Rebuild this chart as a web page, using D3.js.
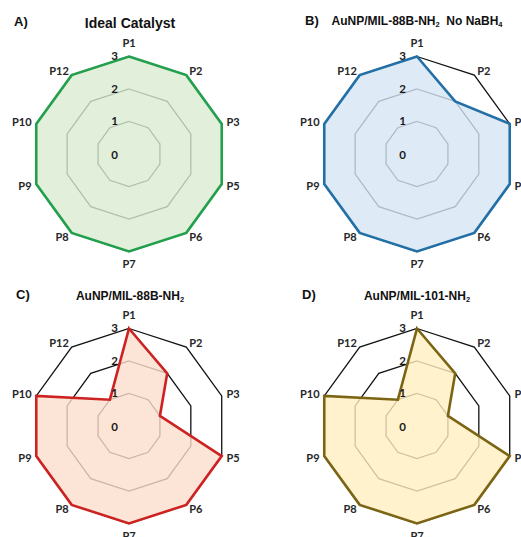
<!DOCTYPE html>
<html>
<head>
<meta charset="utf-8">
<script src="https://cdn.jsdelivr.net/npm/d3@7"></script>
<style>
  html, body { margin: 0; padding: 0; background: #fff; }
  svg { display: block; }
</style>
</head>
<body>
<svg id="chart" width="521" height="537"></svg>
<script>
// ---- data ----
const axes = ["P1", "P2", "P3", "P5", "P6", "P7", "P8", "P9", "P10", "P12"];
const levels = [0, 1, 2, 3];
const idealValues = [3, 3, 3, 3, 3, 3, 3, 3, 3, 3];
const noNaBH4Values = [3, 2, 3, 3, 3, 3, 3, 3, 3, 3];
const mil88Values = [3, 2, 1, 3, 3, 3, 3, 3, 3, 1];
const mil101Values = [3, 2, 1, 3, 3, 3, 3, 3, 3, 1];
const panelLetters = ["A)", "B)", "C)", "D)"];
const titleParts = [
  [["Ideal Catalyst", false]],
  [["AuNP/MIL-88B-NH", false], ["2", true], ["  No NaBH", false], ["4", true]],
  [["AuNP/MIL-88B-NH", false], ["2", true]],
  [["AuNP/MIL-101-NH", false], ["2", true]]
];
const seriesList = [idealValues, noNaBH4Values, mil88Values, mil101Values];
const strokeColors = ["#23a04e", "#2370a6", "#cc2222", "#7b6514"];
const fillColors = ["rgb(219,235,209)", "rgb(214,230,245)", "rgb(251,222,204)", "rgb(255,239,192)"];

// ---- layout ----
const centers = [[129, 154], [417, 154], [129, 426], [417, 426]];
const R = 97.5;
const r = d3.scaleLinear().domain([0, 3]).range([0, R]);
const angle = d3.scaleLinear().domain([0, axes.length]).range([0, 2 * Math.PI]);

const svg = d3.select("#chart");
const lineR = d3.lineRadial()
  .angle((d, i) => angle(i))
  .radius(d => r(d))
  .curve(d3.curveLinearClosed);

const letterPos = [[14, 26], [305, 25], [16, 299], [302, 299]];
const titleCfg = [
  { x: 130, y: 28, size: 14 },
  { x: 417, y: 25, size: 12 },
  { x: 130, y: 300, size: 12 },
  { x: 417, y: 300, size: 12 }
];

seriesList.forEach((vals, p) => {
  const [cx, cy] = centers[p];
  const g = svg.append("g").attr("transform", `translate(${cx},${cy})`);

  levels.filter(l => l > 0).forEach(l => {
    g.append("path")
      .attr("d", lineR(axes.map(() => l)))
      .attr("fill", "none")
      .attr("stroke", "#111")
      .attr("stroke-width", 1.3);
  });

  g.append("path")
    .attr("d", lineR(vals))
    .attr("fill", fillColors[p])
    .attr("fill-opacity", 0.8)
    .attr("stroke", "none");
  g.append("path")
    .attr("d", lineR(vals))
    .attr("fill", "none")
    .attr("stroke", strokeColors[p])
    .attr("stroke-width", 2.6)
    .attr("stroke-linejoin", "miter");

  g.selectAll("text.lvl").data(levels).enter().append("text")
    .attr("class", "lvl")
    .attr("x", -11)
    .attr("y", d => -r(d) + (d === 0 ? 1 : -0.5))
    .attr("dy", "0.35em")
    .attr("text-anchor", "end")
    .attr("font-family", "Lato, 'Open Sans', sans-serif")
    .attr("font-weight", 700)
    .attr("font-size", 11.5)
    .attr("fill", "#1a1a1a")
    .text(d => d);

  g.selectAll("text.ax").data(axes).enter().append("text")
    .attr("class", "ax")
    .each(function(d, i) {
      const a = angle(i);
      const s = Math.sin(a), c = Math.cos(a);
      const t = d3.select(this);
      if (Math.abs(s) < 0.01) {
        const rr = R + 13;
        t.attr("x", 0).attr("y", -c * rr).attr("text-anchor", "middle");
      } else {
        const rr = R + 5;
        t.attr("x", s * rr).attr("y", -c * rr)
         .attr("text-anchor", s > 0 ? "start" : "end");
      }
    })
    .attr("dy", "0.35em")
    .attr("font-family", "Lato, 'Open Sans', sans-serif")
    .attr("font-weight", 700)
    .attr("font-size", 11)
    .attr("fill", "#262626")
    .text(d => d);

  svg.append("text")
    .attr("x", letterPos[p][0]).attr("y", letterPos[p][1])
    .attr("font-family", "'Liberation Sans', Arial, sans-serif")
    .attr("font-weight", 700)
    .attr("font-size", 13)
    .attr("fill", "#111")
    .text(panelLetters[p]);

  const tc = titleCfg[p];
  const tt = svg.append("text")
    .attr("x", tc.x).attr("y", tc.y)
    .attr("text-anchor", "middle")
    .attr("font-family", "'Liberation Sans', Arial, sans-serif")
    .attr("font-weight", 700)
    .attr("font-size", tc.size)
    .attr("fill", "#111")
    .attr("xml:space", "preserve")
    .style("white-space", "pre");
  titleParts[p].forEach(([txt, sub]) => {
    const ts = tt.append("tspan").text(txt);
    if (sub) ts.attr("font-size", tc.size * 0.62).attr("baseline-shift", "-22%");
  });
});
</script>
</body>
</html>
